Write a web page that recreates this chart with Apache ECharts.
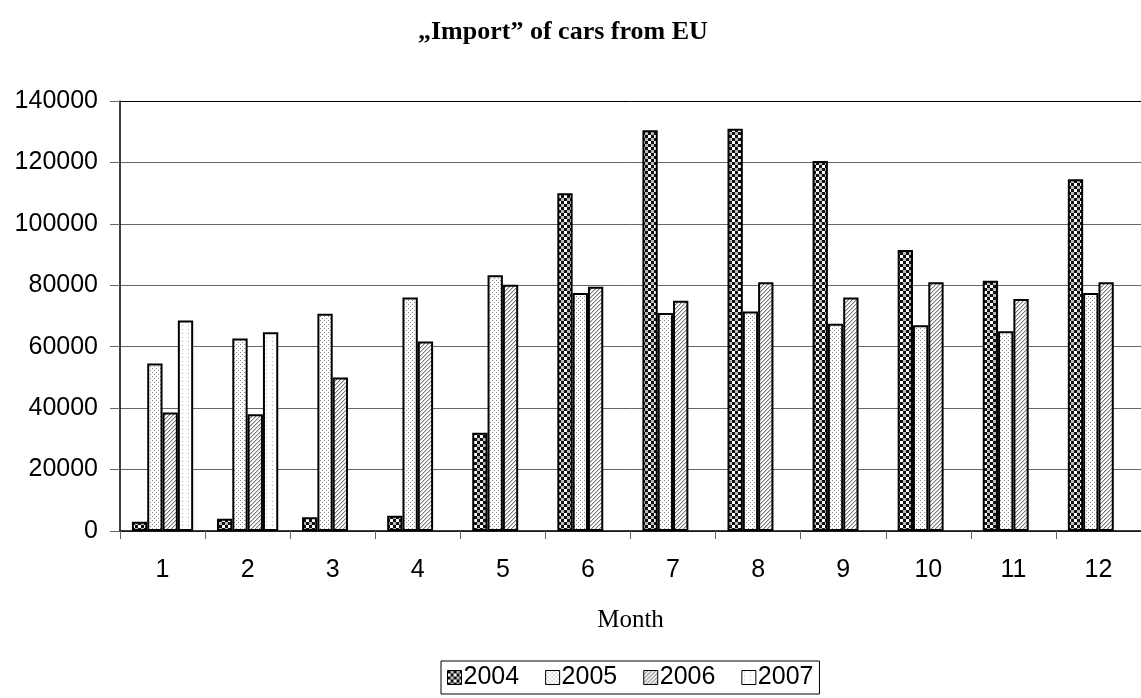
<!DOCTYPE html>
<html>
<head>
<meta charset="utf-8">
<script src="https://cdn.jsdelivr.net/npm/echarts@6/dist/echarts.min.js"></script>
<style>html,body{margin:0;padding:0;background:#fff;}#main{width:1141px;height:698px;}</style>
</head>
<body>
<div id="main"></div>
<script>
var months = ['1','2','3','4','5','6','7','8','9','10','11','12'];
var seriesNames = ['2004','2005','2006','2007'];
var y2004 = [3000, 4000, 4500, 5000, 32000, 110000, 130500, 131000, 120500, 91500, 81500, 114500];
var y2005 = [54500, 62700, 70700, 76000, 83300, 77500, 71000, 71500, 67500, 67000, 65000, 77500];
var y2006 = [38600, 38000, 50000, 61700, 80200, 79500, 75000, 81000, 76000, 81000, 75500, 81000];
var y2007 = [68500, 64700, '-', '-', '-', '-', '-', '-', '-', '-', '-', '-'];
var yTicks = [0, 20000, 40000, 60000, 80000, 100000, 120000, 140000];

function makePattern(w, h, draw) {
  var c = document.createElement('canvas');
  c.width = w; c.height = h;
  var ctx = c.getContext('2d');
  ctx.fillStyle = '#fff';
  ctx.fillRect(0, 0, w, h);
  draw(ctx);
  return { image: c, repeat: 'repeat' };
}
var pat2004 = makePattern(6, 6, function (ctx) {
  ctx.fillStyle = '#111';
  ctx.fillRect(0, 0, 3, 3);
  ctx.fillRect(3, 3, 3, 3);
  ctx.fillStyle = '#bbb';
  ctx.fillRect(3, 0, 3, 3);
});
var pat2005 = makePattern(4, 4, function (ctx) {
  ctx.fillStyle = '#8a8a8a';
  ctx.fillRect(0, 0, 1, 1);
  ctx.fillRect(2, 2, 1, 1);
});
var pat2006 = makePattern(4, 4, function (ctx) {
  ctx.fillStyle = '#7a7a7a';
  for (var i = 0; i < 4; i++) {
    ctx.fillRect(i, 3 - i, 1, 1);
  }
  ctx.fillStyle = '#c8c8c8';
  for (var j = 0; j < 4; j++) {
    ctx.fillRect((j + 1) % 4, 3 - j, 1, 1);
  }
});
var pat2007 = makePattern(6, 4, function (ctx) {
  ctx.fillStyle = '#b0b0b0';
  ctx.fillRect(2, 1, 1, 1);
});
var patterns = [pat2004, pat2005, pat2006, pat2007];
var dataSets = [y2004, y2005, y2006, y2007];

var chart = echarts.init(document.getElementById('main'), null, { renderer: 'canvas' });
var series = seriesNames.map(function (n, i) {
  return {
    name: n,
    type: 'bar',
    data: dataSets[i],
    barGap: '0%',
    barCategoryGap: '28%',
    itemStyle: { color: patterns[i], borderColor: '#000', borderWidth: 2 }
  };
});
chart.setOption({
  animation: false,
  backgroundColor: '#fff',
  title: {
    text: '\u201EImport\u201D of cars from EU',
    left: 413,
    top: 14,
    textStyle: { fontFamily: 'Liberation Serif', fontWeight: 'bold', fontSize: 26, color: '#000' }
  },
  legend: {
    data: seriesNames,
    icon: 'rect',
    left: 441,
    top: 661,
    itemWidth: 14,
    itemHeight: 14,
    itemGap: 26,
    padding: [4, 6, 4, 6],
    borderColor: '#000',
    borderWidth: 1,
    itemStyle: { borderColor: '#000', borderWidth: 1 },
    textStyle: { fontFamily: 'Liberation Sans', fontSize: 25, color: '#000', padding: [0, 0, 0, -3] }
  },
  grid: { left: 120, top: 101, width: 1030, height: 430, containLabel: false },
  xAxis: {
    type: 'category',
    data: months,
    name: 'Month',
    nameLocation: 'middle',
    nameGap: 77,
    nameTextStyle: { fontFamily: 'Liberation Serif', fontSize: 25, color: '#000' },
    axisLine: { lineStyle: { color: '#000', width: 1.5 } },
    axisTick: { show: true, length: 8, lineStyle: { color: '#666' } },
    axisLabel: { fontFamily: 'Liberation Sans', fontSize: 25, color: '#000', margin: 27 }
  },
  yAxis: {
    type: 'value',
    min: 0,
    max: 140000,
    interval: 20000,
    axisLine: { show: true, lineStyle: { color: '#000', width: 1.5 } },
    axisTick: { show: true, length: 10, lineStyle: { color: '#666' } },
    axisLabel: {
      fontFamily: 'Liberation Sans', fontSize: 25, color: '#000', margin: 22,
      formatter: function (v) { return yTicks.indexOf(v) >= 0 ? String(v) : ''; }
    },
    splitLine: { show: true, lineStyle: { color: ['#666','#666','#666','#666','#666','#666','#666','#000'], width: 1 } }
  },
  series: series
});
</script>
</body>
</html>
